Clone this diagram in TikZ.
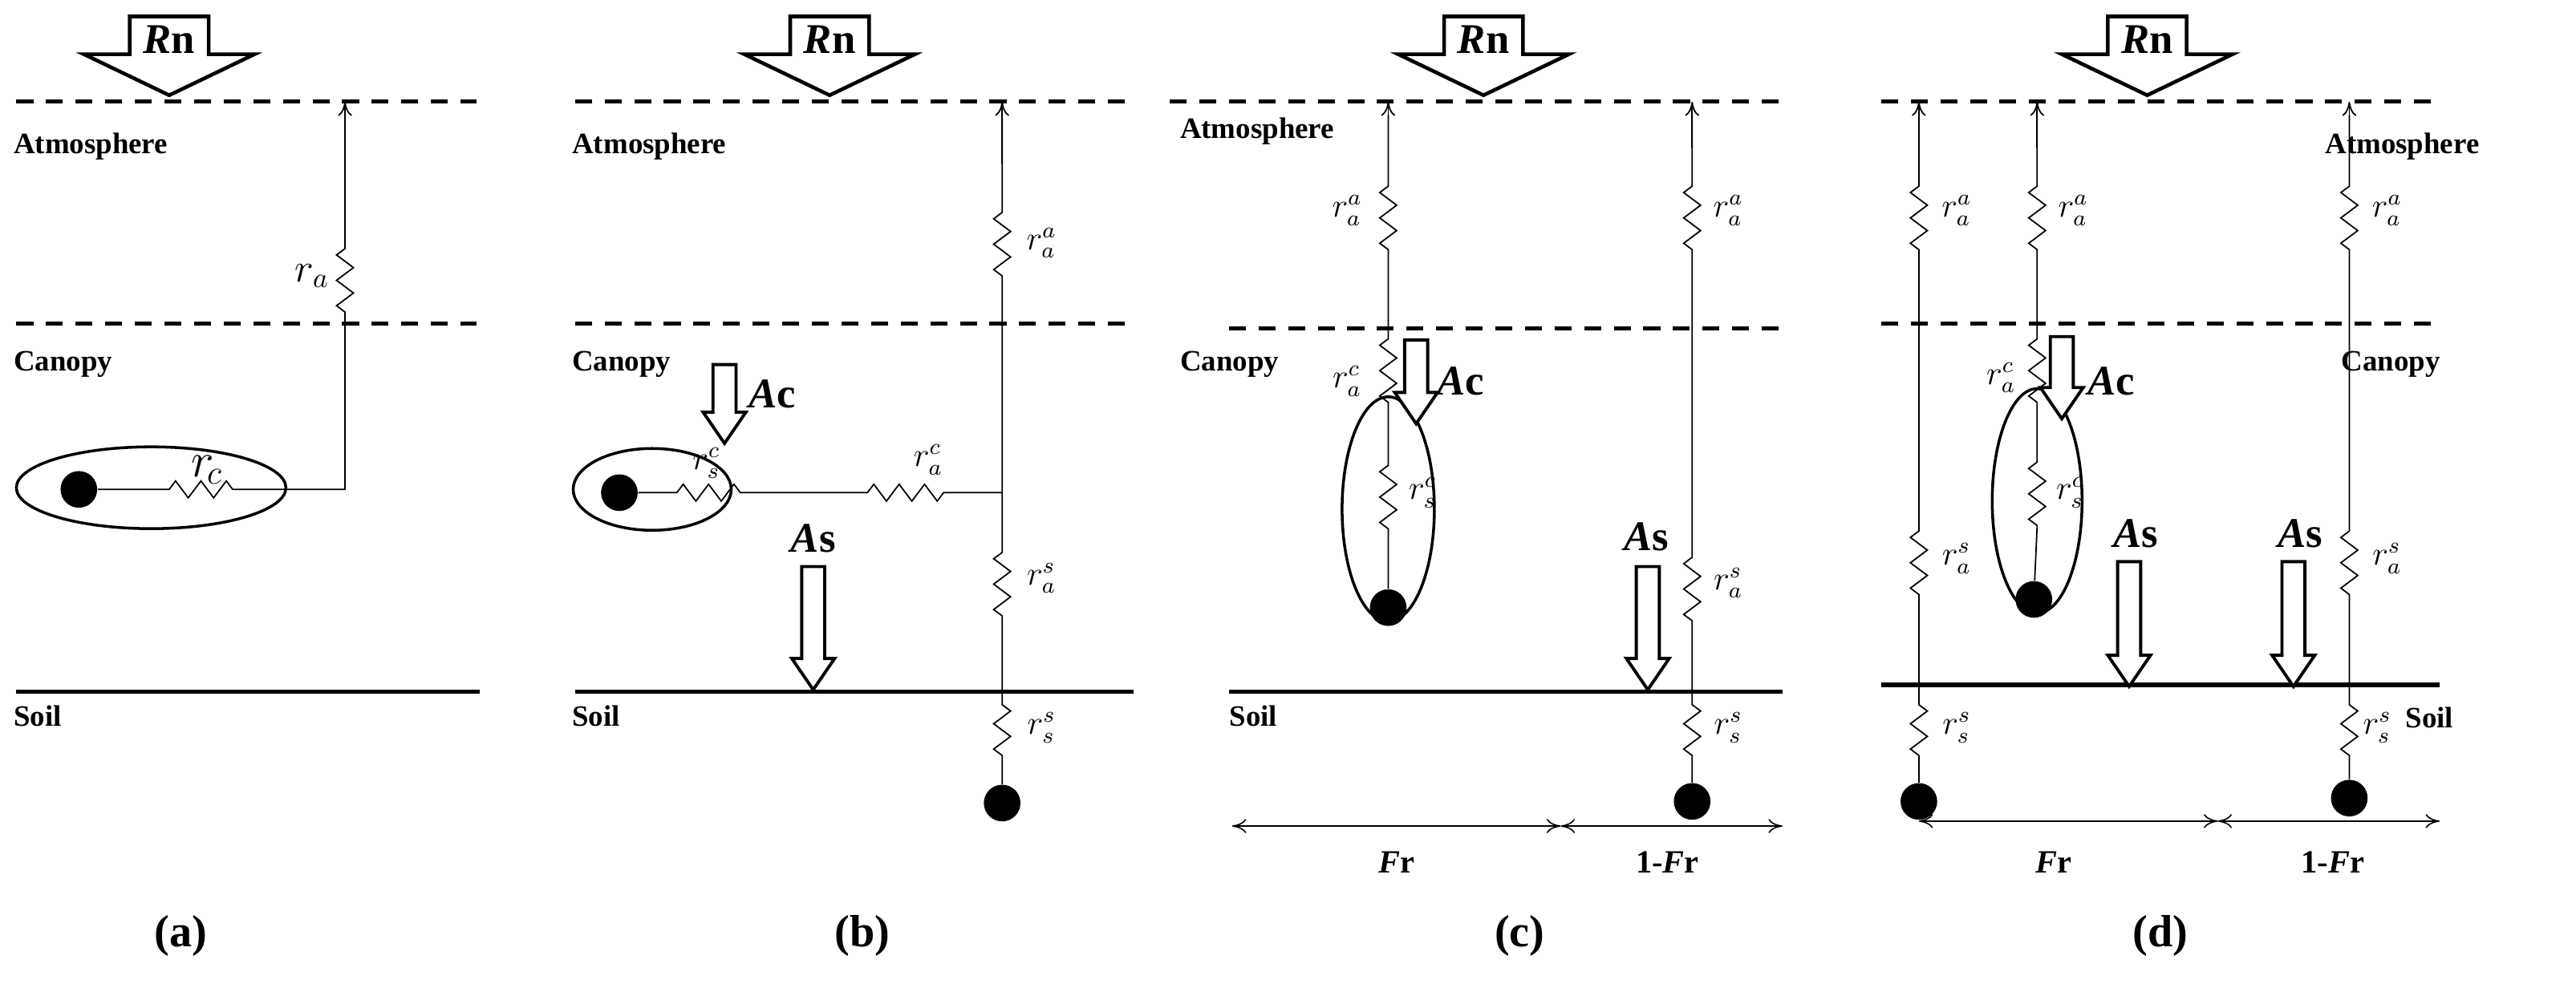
\documentclass[tikz,border=0pt]{standalone}
\usepackage{fontspec}
\setmainfont{Liberation Serif}
\usetikzlibrary{decorations.pathmorphing,arrows.meta,shapes.geometric}
\newcommand\bigarrow[2]{% center x, name
  \draw[line width=1.3pt,fill=white] (#1-24,10) -- (#1+24,10) -- (#1+24,33) -- (#1+52,33) -- (#1,58) -- (#1-52,33) -- (#1-24,33) -- cycle;
  \node[font=\bfseries\fontsize{15}{17}\selectfont] (#2) at (#1,24) {\textit{R}n};}
\newcommand\smallarrow[4]{% x, ytop, ytip, name
  \draw[blk] (#1-7,#2) -- (#1+7,#2) -- (#1+7,#3-19) -- (#1+13,#3-19) -- (#1,#3) -- (#1-13,#3-19) -- (#1-7,#3-19) -- cycle;
  \coordinate (#4) at (#1,#3);}
\newcommand\Ac{\textbf{\textit{A}c}}
\newcommand\As{\textbf{\textit{A}s}}
\begin{document}
\begin{tikzpicture}[x=0.02048cm,y=-0.02048cm,
  dl/.style={line width=1.4pt,dash pattern=on 6pt off 4.5pt},
  soil/.style={line width=1.5pt},
  wire/.style={line width=0.5pt},
  zz/.style={decoration={zigzag,amplitude=3pt,segment length=9pt}},
  up/.style={-{To[length=5pt,width=5pt]}},
  lay/.style={font=\bfseries\fontsize{10.5}{12}\selectfont,anchor=west,inner sep=0pt},
  rl/.style={font=\fontsize{12}{14}\selectfont,inner sep=0pt},
  fl/.style={font=\bfseries\fontsize{16}{18}\selectfont,inner sep=0pt},
  blk/.style={line width=1.1pt,fill=white},
  dot/.style={circle,fill=black,inner sep=0pt,minimum size=13pt},
  leaf/.style={ellipse,draw,line width=1pt,inner sep=0pt},
  dbl/.style={{To[length=5pt,width=5pt]}-{To[length=5pt,width=5pt]},line width=0.45pt}]
\useasboundingbox (0,0) rectangle (1568,604);
% ================= (a)
\bigarrow{103}{rna}
\draw[dl] (10,62) -- (290,62); \draw[dl] (10,197) -- (290,197);
\draw[soil] (10,421) -- (292,421);
\node[lay] (atma) at (8,89) {Atmosphere};
\node[lay] (cana) at (8,222) {Canopy};
\node[lay] (soila) at (8,436) {Soil};
\node[leaf,minimum width=3.36cm,minimum height=1.02cm] (ella) at (92,297) {};
\node[dot] (da) at (48,298) {};
\coordinate (ta) at (210,62);
\draw[wire] (da) -- (103,298) decorate[zz]{-- (145,298)} -- (210,298) -- (210,190) decorate[zz]{-- (210,150)} -- (210,66);
\draw[wire,up] (210,120) -- (ta);
\node[rl,font=\fontsize{14}{16}\selectfont] (ra) at (190,168) {$r_a$};
\node[rl,font=\fontsize{18}{20}\selectfont] (rca) at (126,286) {$r_{\!c}$};
\node[fl] (la) at (110,570) {(a)};
% ================= (b)
\bigarrow{505}{rnb}
\draw[dl] (350,62) -- (690,62); \draw[dl] (350,197) -- (690,197);
\draw[soil] (350,421) -- (690,421);
\node[lay] (atmb) at (348,89) {Atmosphere};
\node[lay] (canb) at (348,222) {Canopy};
\node[lay] (soilb) at (348,436) {Soil};
\node[leaf,minimum width=1.97cm,minimum height=1.02cm] (ellb) at (397,298) {};
\node[dot] (db) at (377,300) {};
\node[dot] (db2) at (610,489) {};
\coordinate (tb) at (610,62);
\draw[wire] (db) -- (412,300) decorate[zz]{-- (452,300)} -- (528,300) decorate[zz]{-- (580,300)} -- (610,300);
\draw[wire] (db2) -- (610,460) decorate[zz]{-- (610,425)} -- (610,375) decorate[zz]{-- (610,330)} -- (610,168) decorate[zz]{-- (610,125)} -- (610,70);
\draw[wire,up] (610,100) -- (tb);
\node[rl] (rb1) at (634,148) {$r_a^a$};
\node[rl] (rb2) at (430,282) {$r_s^c$};
\node[rl] (rb3) at (565,280) {$r_a^c$};
\node[rl] (rb4) at (634,352) {$r_a^s$};
\node[rl] (rb5) at (634,443) {$r_s^s$};
\smallarrow{441}{222}{270}{acb}
\node[font=\fontsize{15}{17}\selectfont] (acbl) at (470,240) {\Ac};
\smallarrow{495}{345}{420}{asb}
\node[font=\fontsize{15}{17}\selectfont] (asbl) at (495,328) {\As};
\node[fl] (lb) at (525,570) {(b)};
% ================= (c)
\bigarrow{903}{rnc}
\draw[dl] (712,62) -- (1085,62); \draw[dl] (748,200) -- (1085,200);
\draw[soil] (748,421) -- (1085,421);
\node[lay] (atmc) at (718,80) {Atmosphere};
\node[lay] (canc) at (718,222) {Canopy};
\node[lay] (soilc) at (748,436) {Soil};
\node[leaf,minimum width=1.15cm,minimum height=2.8cm] (ellc) at (845,310) {};
\node[dot] (dc) at (845,370) {};
\node[dot] (dc2) at (1030,488) {};
\coordinate (tc1) at (845,62); \coordinate (tc2) at (1030,62);
\draw[wire] (dc) -- (845,322) decorate[zz]{-- (845,280)} -- (845,245) decorate[zz]{-- (845,205)} -- (845,152) decorate[zz]{-- (845,108)} -- (845,70);
\draw[wire,up] (845,90) -- (tc1);
\draw[wire] (dc2) -- (1030,460) decorate[zz]{-- (1030,425)} -- (1030,378) decorate[zz]{-- (1030,332)} -- (1030,152) decorate[zz]{-- (1030,108)} -- (1030,70);
\draw[wire,up] (1030,90) -- (tc2);
\node[rl] (rc1) at (820,128) {$r_a^a$};
\node[rl] (rc2) at (820,232) {$r_a^c$};
\node[rl] (rc3) at (866,300) {$r_s^c$};
\node[rl] (rc4) at (1052,128) {$r_a^a$};
\node[rl] (rc5) at (1052,355) {$r_a^s$};
\node[rl] (rc6) at (1052,443) {$r_s^s$};
\smallarrow{862}{207}{258}{acc}
\node[font=\fontsize{15}{17}\selectfont] (accl) at (889,232) {\Ac};
\smallarrow{1003}{345}{420}{asc}
\node[font=\fontsize{15}{17}\selectfont] (ascl) at (1002,327) {\As};
\coordinate (c1) at (750,503); \coordinate (c2) at (950,503); \coordinate (c3) at (1085,503);
\draw[dbl] (c1) -- (c2); \draw[dbl] (c2) -- (c3);
\node[rl,font=\bfseries\fontsize{11.5}{13}\selectfont] (frc) at (850,525) {\textit{F}r};
\node[rl,font=\bfseries\fontsize{11.5}{13}\selectfont] (frc2) at (1015,525) {1-\textit{F}r};
\node[fl] (lc) at (925,570) {(c)};
% ================= (d)
\bigarrow{1307}{rnd}
\draw[dl] (1145,62) -- (1485,62); \draw[dl] (1145,197) -- (1485,197);
\draw[soil] (1145,417) -- (1485,417);
\node[lay] (atmd) at (1415,89) {Atmosphere};
\node[lay] (cand) at (1425,222) {Canopy};
\node[lay] (soild) at (1464,437) {Soil};
\node[leaf,minimum width=1.12cm,minimum height=2.8cm] (elld) at (1240,305) {};
\node[dot] (dd) at (1238,365) {};
\node[dot] (dd1) at (1168,488) {};
\node[dot] (dd2) at (1430,486) {};
\coordinate (td1) at (1168,62); \coordinate (td2) at (1240,62); \coordinate (td3) at (1430,62);
\foreach \xx/\nm in {1168/dd1,1430/dd2}{
  \draw[wire] (\nm) -- (\xx,460) decorate[zz]{-- (\xx,425)} -- (\xx,362) decorate[zz]{-- (\xx,318)} -- (\xx,152) decorate[zz]{-- (\xx,108)} -- (\xx,70);
  \draw[wire,up] (\xx,90) -- (\xx,62);}
\draw[wire] (dd) -- (1240,320) decorate[zz]{-- (1240,275)} -- (1240,245) decorate[zz]{-- (1240,205)} -- (1240,152) decorate[zz]{-- (1240,108)} -- (1240,70);
\draw[wire,up] (1240,90) -- (td2);
\node[rl] (rd1) at (1191,128) {$r_a^a$};
\node[rl] (rd2) at (1262,128) {$r_a^a$};
\node[rl] (rd3) at (1453,128) {$r_a^a$};
\node[rl] (rd4) at (1218,230) {$r_a^c$};
\node[rl] (rd5) at (1260,300) {$r_s^c$};
\node[rl] (rd6) at (1191,340) {$r_a^s$};
\node[rl] (rd7) at (1453,340) {$r_a^s$};
\node[rl] (rd8) at (1191,443) {$r_s^s$};
\node[rl] (rd9) at (1447,443) {$r_s^s$};
\smallarrow{1255}{205}{255}{acd}
\node[font=\fontsize{15}{17}\selectfont] (acdl) at (1285,232) {\Ac};
\smallarrow{1296}{342}{418}{asd1}
\node[font=\fontsize{15}{17}\selectfont] (asdl1) at (1300,325) {\As};
\smallarrow{1396}{342}{418}{asd2}
\node[font=\fontsize{15}{17}\selectfont] (asdl2) at (1400,325) {\As};
\coordinate (e1) at (1168,500); \coordinate (e2) at (1350,500); \coordinate (e3) at (1485,500);
\draw[dbl] (e1) -- (e2); \draw[dbl] (e2) -- (e3);
\node[rl,font=\bfseries\fontsize{11.5}{13}\selectfont] (frd) at (1250,525) {\textit{F}r};
\node[rl,font=\bfseries\fontsize{11.5}{13}\selectfont] (frd2) at (1420,525) {1-\textit{F}r};
\node[fl] (ld) at (1315,570) {(d)};
\end{tikzpicture}
\end{document}
